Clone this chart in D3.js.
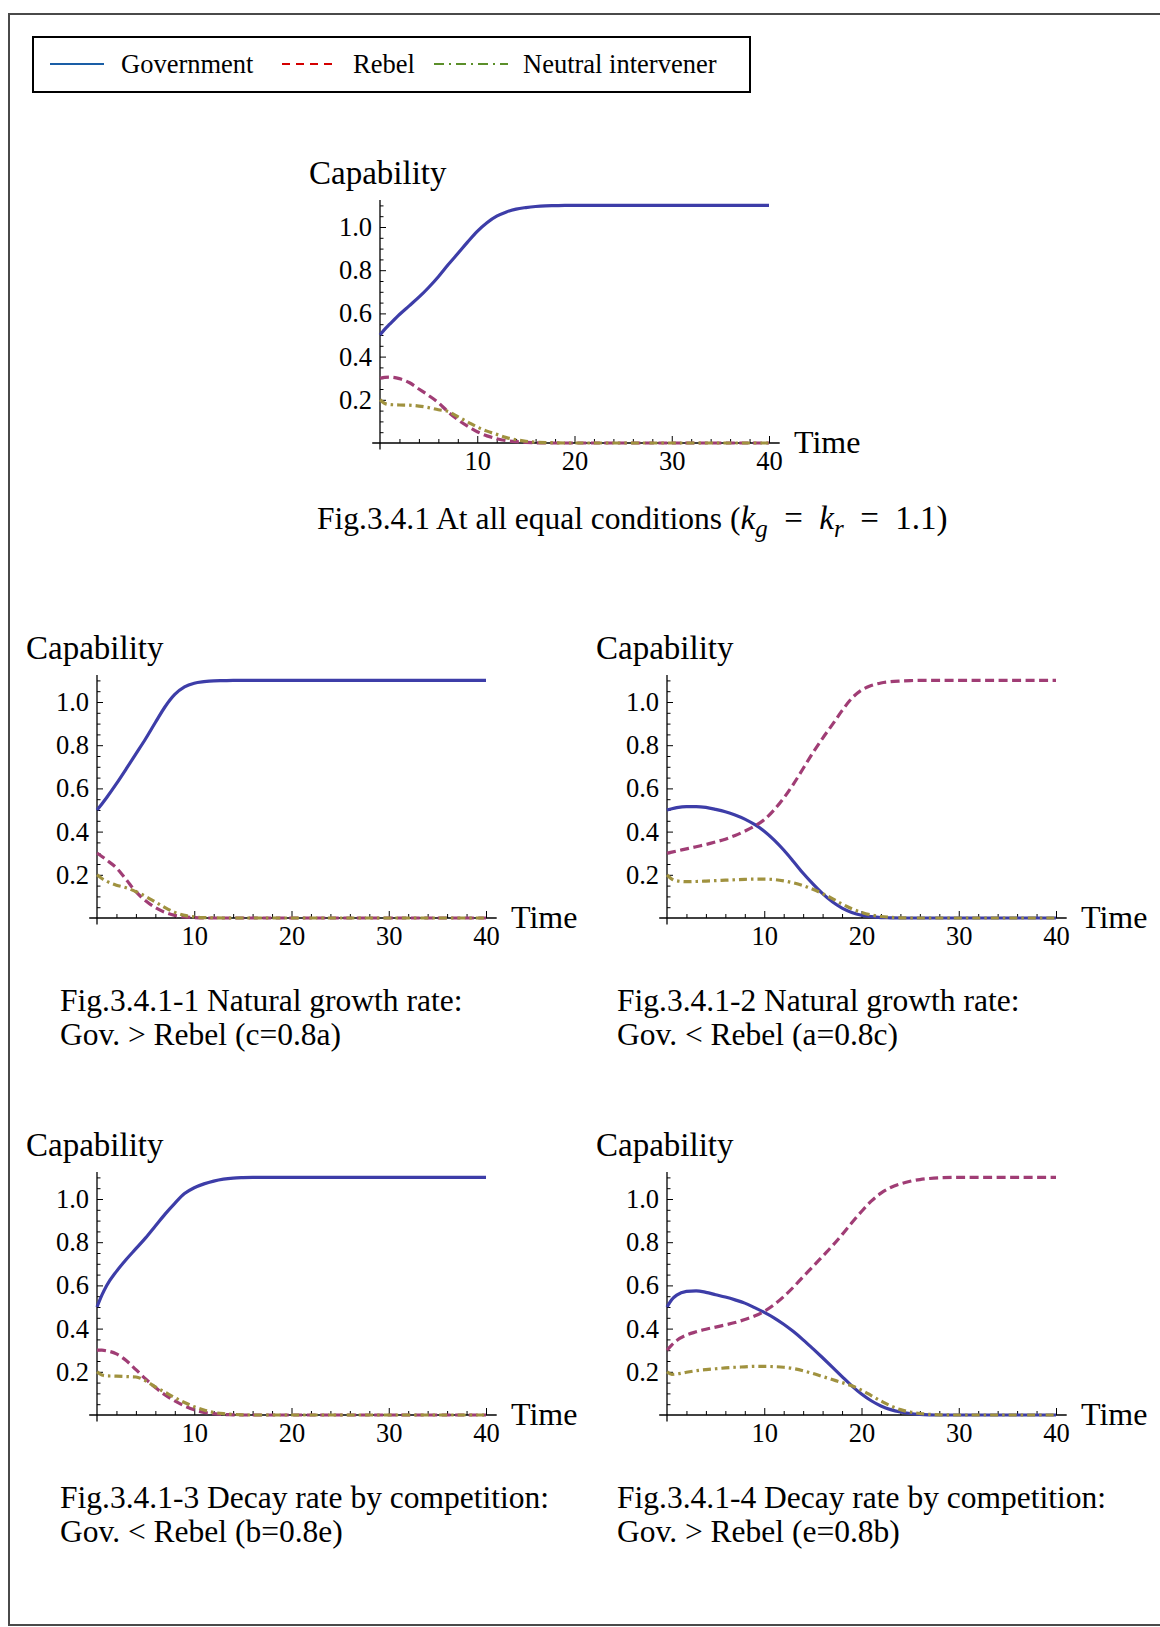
<!DOCTYPE html>
<html>
<head>
<meta charset="utf-8">
<script src="https://cdn.jsdelivr.net/npm/d3@7"></script>
<style>
  body { margin: 0; background: #fff; }
  svg text { font-family: "Liberation Serif", "Times New Roman", serif; fill: #000; }
</style>
</head>
<body>
<div id="chart"></div>
<script>
// time grid shared by every panel
var timePoints = [0,0.5,1, 2,3,4,5,6,7,8,9,10, 11,12,13,14,15,16,17,18,19,20, 21,22,23,24,25,26,27,28, 30,35,40];

// Fig.3.4.1 equal conditions
var equalGov     = [0.5,0.527,0.55, 0.595,0.635,0.675,0.72,0.77,0.825,0.877,0.93,0.98, 1.02,1.05,1.07,1.083,1.09,1.095,1.098,1.099,1.1,1.1, 1.1,1.1,1.1,1.1,1.1,1.1,1.1,1.1, 1.1,1.1,1.1];
var equalRebel   = [0.3,0.304,0.305, 0.298,0.28,0.25,0.22,0.187,0.144,0.108,0.078,0.052, 0.033,0.02,0.011,0.006,0.003,0.001,0,0,0,0, 0,0,0,0,0,0,0,0, 0,0,0];
var equalNeutral = [0.2,0.183,0.178, 0.176,0.175,0.171,0.164,0.154,0.146,0.122,0.098,0.074, 0.055,0.04,0.025,0.015,0.008,0.004,0.002,0.001,0,0, 0,0,0,0,0,0,0,0, 0,0,0];

// Fig.3.4.1-1 c=0.8a
var growthGovGov     = [0.5,0.528,0.558, 0.622,0.69,0.76,0.83,0.905,0.978,1.035,1.07,1.087, 1.094,1.098,1.099,1.1,1.1,1.1,1.1,1.1,1.1,1.1, 1.1,1.1,1.1,1.1,1.1,1.1,1.1,1.1, 1.1,1.1,1.1];
var growthGovRebel   = [0.3,0.285,0.268, 0.232,0.178,0.122,0.08,0.048,0.026,0.012,0.005,0.0015, 0,0,0,0,0,0,0,0,0,0, 0,0,0,0,0,0,0,0, 0,0,0];
var growthGovNeutral = [0.2,0.183,0.17, 0.152,0.14,0.122,0.1,0.074,0.048,0.026,0.012,0.005, 0.002,0.001,0,0,0,0,0,0,0,0, 0,0,0,0,0,0,0,0, 0,0,0];

// Fig.3.4.1-2 a=0.8c
var growthRebGov     = [0.5,0.506,0.511, 0.516,0.516,0.512,0.503,0.492,0.477,0.458,0.433,0.402, 0.362,0.315,0.262,0.207,0.158,0.113,0.075,0.046,0.026,0.013, 0.006,0.002,0.001,0,0,0,0,0, 0,0,0];
var growthRebRebel   = [0.3,0.305,0.31, 0.32,0.33,0.34,0.352,0.365,0.382,0.402,0.425,0.455, 0.5,0.555,0.62,0.692,0.765,0.832,0.895,0.96,1.017,1.055, 1.076,1.088,1.094,1.097,1.099,1.1,1.1,1.1, 1.1,1.1,1.1];
var growthRebNeutral = [0.2,0.18,0.172, 0.168,0.169,0.171,0.173,0.175,0.177,0.179,0.18,0.18, 0.178,0.172,0.163,0.15,0.133,0.113,0.09,0.065,0.043,0.026, 0.014,0.007,0.003,0.001,0,0,0,0, 0,0,0];

// Fig.3.4.1-3 b=0.8e
var decayGovGov     = [0.5,0.555,0.6, 0.665,0.72,0.77,0.82,0.875,0.93,0.98,1.025,1.052, 1.07,1.083,1.092,1.097,1.099,1.1,1.1,1.1,1.1,1.1, 1.1,1.1,1.1,1.1,1.1,1.1,1.1,1.1, 1.1,1.1,1.1];
var decayGovRebel   = [0.3,0.3,0.297, 0.283,0.252,0.21,0.167,0.127,0.093,0.065,0.042,0.024, 0.012,0.006,0.002,0.001,0,0,0,0,0,0, 0,0,0,0,0,0,0,0, 0,0,0];
var decayGovNeutral = [0.2,0.185,0.181, 0.18,0.178,0.176,0.158,0.13,0.105,0.08,0.058,0.038, 0.023,0.012,0.006,0.003,0.001,0,0,0,0,0, 0,0,0,0,0,0,0,0, 0,0,0];

// Fig.3.4.1-4 e=0.8b
var decayRebGov     = [0.5,0.535,0.555, 0.572,0.575,0.568,0.557,0.546,0.533,0.518,0.497,0.475, 0.45,0.42,0.386,0.348,0.307,0.265,0.222,0.178,0.135,0.097, 0.066,0.042,0.025,0.014,0.007,0.003,0.001,0, 0,0,0];
var decayRebRebel   = [0.3,0.325,0.345, 0.37,0.385,0.397,0.407,0.417,0.428,0.442,0.458,0.48, 0.51,0.548,0.592,0.64,0.687,0.735,0.783,0.835,0.89,0.942, 0.99,1.027,1.053,1.07,1.082,1.09,1.095,1.098, 1.1,1.1,1.1];
var decayRebNeutral = [0.2,0.188,0.19, 0.198,0.205,0.21,0.214,0.218,0.221,0.223,0.225,0.225, 0.224,0.221,0.215,0.205,0.192,0.178,0.164,0.15,0.135,0.115, 0.09,0.065,0.042,0.025,0.014,0.007,0.003,0.001, 0,0,0];

var xMajorTicks = [10, 20, 30, 40];
var yMajorTicks = [0.2, 0.4, 0.6, 0.8, 1.0];
var legendLabels = ["Government", "Rebel", "Neutral intervener"];

var captions = [
  null,
  ["Fig.3.4.1-1 Natural growth rate:", "Gov. > Rebel (c=0.8a)"],
  ["Fig.3.4.1-2 Natural growth rate:", "Gov. < Rebel (a=0.8c)"],
  ["Fig.3.4.1-3 Decay rate by competition:", "Gov. < Rebel (b=0.8e)"],
  ["Fig.3.4.1-4 Decay rate by competition:", "Gov. > Rebel (e=0.8b)"]
];

var panels = [
  {x0: 380, y0: 443, capX: 0, series: [equalGov, equalRebel, equalNeutral]},
  {x0: 97,  y0: 918, capX: 60, series: [growthGovGov, growthGovRebel, growthGovNeutral]},
  {x0: 667, y0: 918, capX: 617, series: [growthRebGov, growthRebRebel, growthRebNeutral]},
  {x0: 97,  y0: 1415, capX: 60, series: [decayGovGov, decayGovRebel, decayGovNeutral]},
  {x0: 667, y0: 1415, capX: 617, series: [decayRebGov, decayRebRebel, decayRebNeutral]}
];

var plotColors = ["#3d3da8", "#a03d75", "#a0923f"];
var plotDash = [null, "9,4.5", "8,4,2.5,4"];
var legendColors = ["#1a5ea6", "#d40000", "#5b8f2a"];
var legendDash = [null, "8,6", "10,5,2,5"];

var svgWidth = 1160;
var svgHeight = 1627;

var svg = d3.select("#chart")
  .append("svg")
  .attr("width", svgWidth)
  .attr("height", svgHeight);

// page frame (right side runs off the page)
svg.append("rect")
  .attr("x", 9).attr("y", 14)
  .attr("width", 1200).attr("height", 1611)
  .attr("fill", "none")
  .attr("stroke", "#4a4a4a")
  .attr("stroke-width", 2);

// legend
var legend = svg.append("g");
legend.append("rect")
  .attr("x", 33).attr("y", 37)
  .attr("width", 717).attr("height", 55)
  .attr("fill", "none")
  .attr("stroke", "#000")
  .attr("stroke-width", 2);

var legendX = [{line: 50, len: 54, text: 121}, {line: 282, len: 56, text: 353}, {line: 434, len: 74, text: 523}];
legendLabels.forEach(function(label, i) {
  legend.append("line")
    .attr("x1", legendX[i].line).attr("x2", legendX[i].line + legendX[i].len)
    .attr("y1", 64).attr("y2", 64)
    .attr("stroke", legendColors[i])
    .attr("stroke-width", 2.2)
    .attr("stroke-dasharray", legendDash[i]);
  legend.append("text")
    .attr("x", legendX[i].text).attr("y", 73)
    .attr("font-size", 26.5)
    .text(label);
});

panels.forEach(function(p, idx) {
  var x = d3.scaleLinear().domain([0, 40]).range([p.x0, p.x0 + 389]);
  var y = d3.scaleLinear().domain([0, 1]).range([p.y0, p.y0 - 216]);
  var g = svg.append("g");

  // axis lines
  g.append("line")
    .attr("x1", x(-0.8)).attr("x2", x(41.1))
    .attr("y1", y(0)).attr("y2", y(0))
    .attr("stroke", "#000").attr("stroke-width", 1.3);
  g.append("line")
    .attr("x1", x(0)).attr("x2", x(0))
    .attr("y1", y(-0.03)).attr("y2", y(1.125))
    .attr("stroke", "#000").attr("stroke-width", 1.3);

  var xMinor = d3.range(2, 40, 2).filter(function(d) { return d % 10 !== 0; });
  var yMinor = d3.range(1, 23).map(function(d) { return d * 0.05; })
    .filter(function(d) { return Math.abs(d * 5 - Math.round(d * 5)) > 1e-6; });

  g.append("g")
    .attr("transform", "translate(0," + y(0) + ")")
    .call(d3.axisBottom(x).tickValues(xMajorTicks).tickSizeInner(-7).tickSizeOuter(0).tickPadding(8))
    .call(function(a) { a.select(".domain").remove(); })
    .attr("font-family", null).attr("font-size", 26.5);
  g.append("g")
    .attr("transform", "translate(0," + y(0) + ")")
    .call(d3.axisBottom(x).tickValues(xMinor).tickSizeInner(-4).tickSizeOuter(0).tickFormat(""))
    .call(function(a) { a.select(".domain").remove(); });

  g.append("g")
    .attr("transform", "translate(" + x(0) + ",0)")
    .call(d3.axisLeft(y).tickValues(yMajorTicks).tickSizeInner(-6).tickSizeOuter(0).tickPadding(8).tickFormat(d3.format(".1f")))
    .call(function(a) { a.select(".domain").remove(); })
    .attr("font-family", null).attr("font-size", 26.5);
  g.append("g")
    .attr("transform", "translate(" + x(0) + ",0)")
    .call(d3.axisLeft(y).tickValues(yMinor).tickSizeInner(-3.5).tickSizeOuter(0).tickFormat(""))
    .call(function(a) { a.select(".domain").remove(); });

  g.selectAll(".tick line").attr("stroke-width", 1);

  // curves
  var line = d3.line()
    .x(function(d, i) { return x(timePoints[i]); })
    .y(function(d) { return y(d); })
    .curve(d3.curveMonotoneX);

  p.series.forEach(function(values, i) {
    g.append("path")
      .datum(values)
      .attr("d", line)
      .attr("fill", "none")
      .attr("stroke", plotColors[i])
      .attr("stroke-width", 3.2)
      .attr("stroke-dasharray", plotDash[i]);
  });

  // axis labels
  g.append("text")
    .attr("x", x(0) - 71).attr("y", y(0) - 259)
    .attr("font-size", 33)
    .text("Capability");
  g.append("text")
    .attr("x", x(0) + 414).attr("y", y(0) + 10)
    .attr("font-size", 32)
    .text("Time");

  // captions
  if (captions[idx]) {
    captions[idx].forEach(function(t, k) {
      g.append("text")
        .attr("x", p.capX).attr("y", y(0) + 93 + k * 34)
        .attr("font-size", 31.5)
        .text(t);
    });
  }
});

// top caption with math
var cap = svg.append("text")
  .attr("x", 317).attr("y", 529)
  .attr("font-size", 31.5);
cap.append("tspan").text("Fig.3.4.1 At all equal conditions (");
cap.append("tspan").attr("font-style", "italic").attr("font-size", 33).text("k");
cap.append("tspan").attr("font-style", "italic").attr("font-size", 25).attr("dy", 8).text("g");
cap.append("tspan").attr("dy", -8).attr("font-size", 33).text("\u2002=\u2002");
cap.append("tspan").attr("font-style", "italic").attr("font-size", 33).text("k");
cap.append("tspan").attr("font-style", "italic").attr("font-size", 25).attr("dy", 8).text("r");
cap.append("tspan").attr("dy", -8).attr("font-size", 33).text("\u2002=\u20021.1)");
</script>
</body>
</html>
